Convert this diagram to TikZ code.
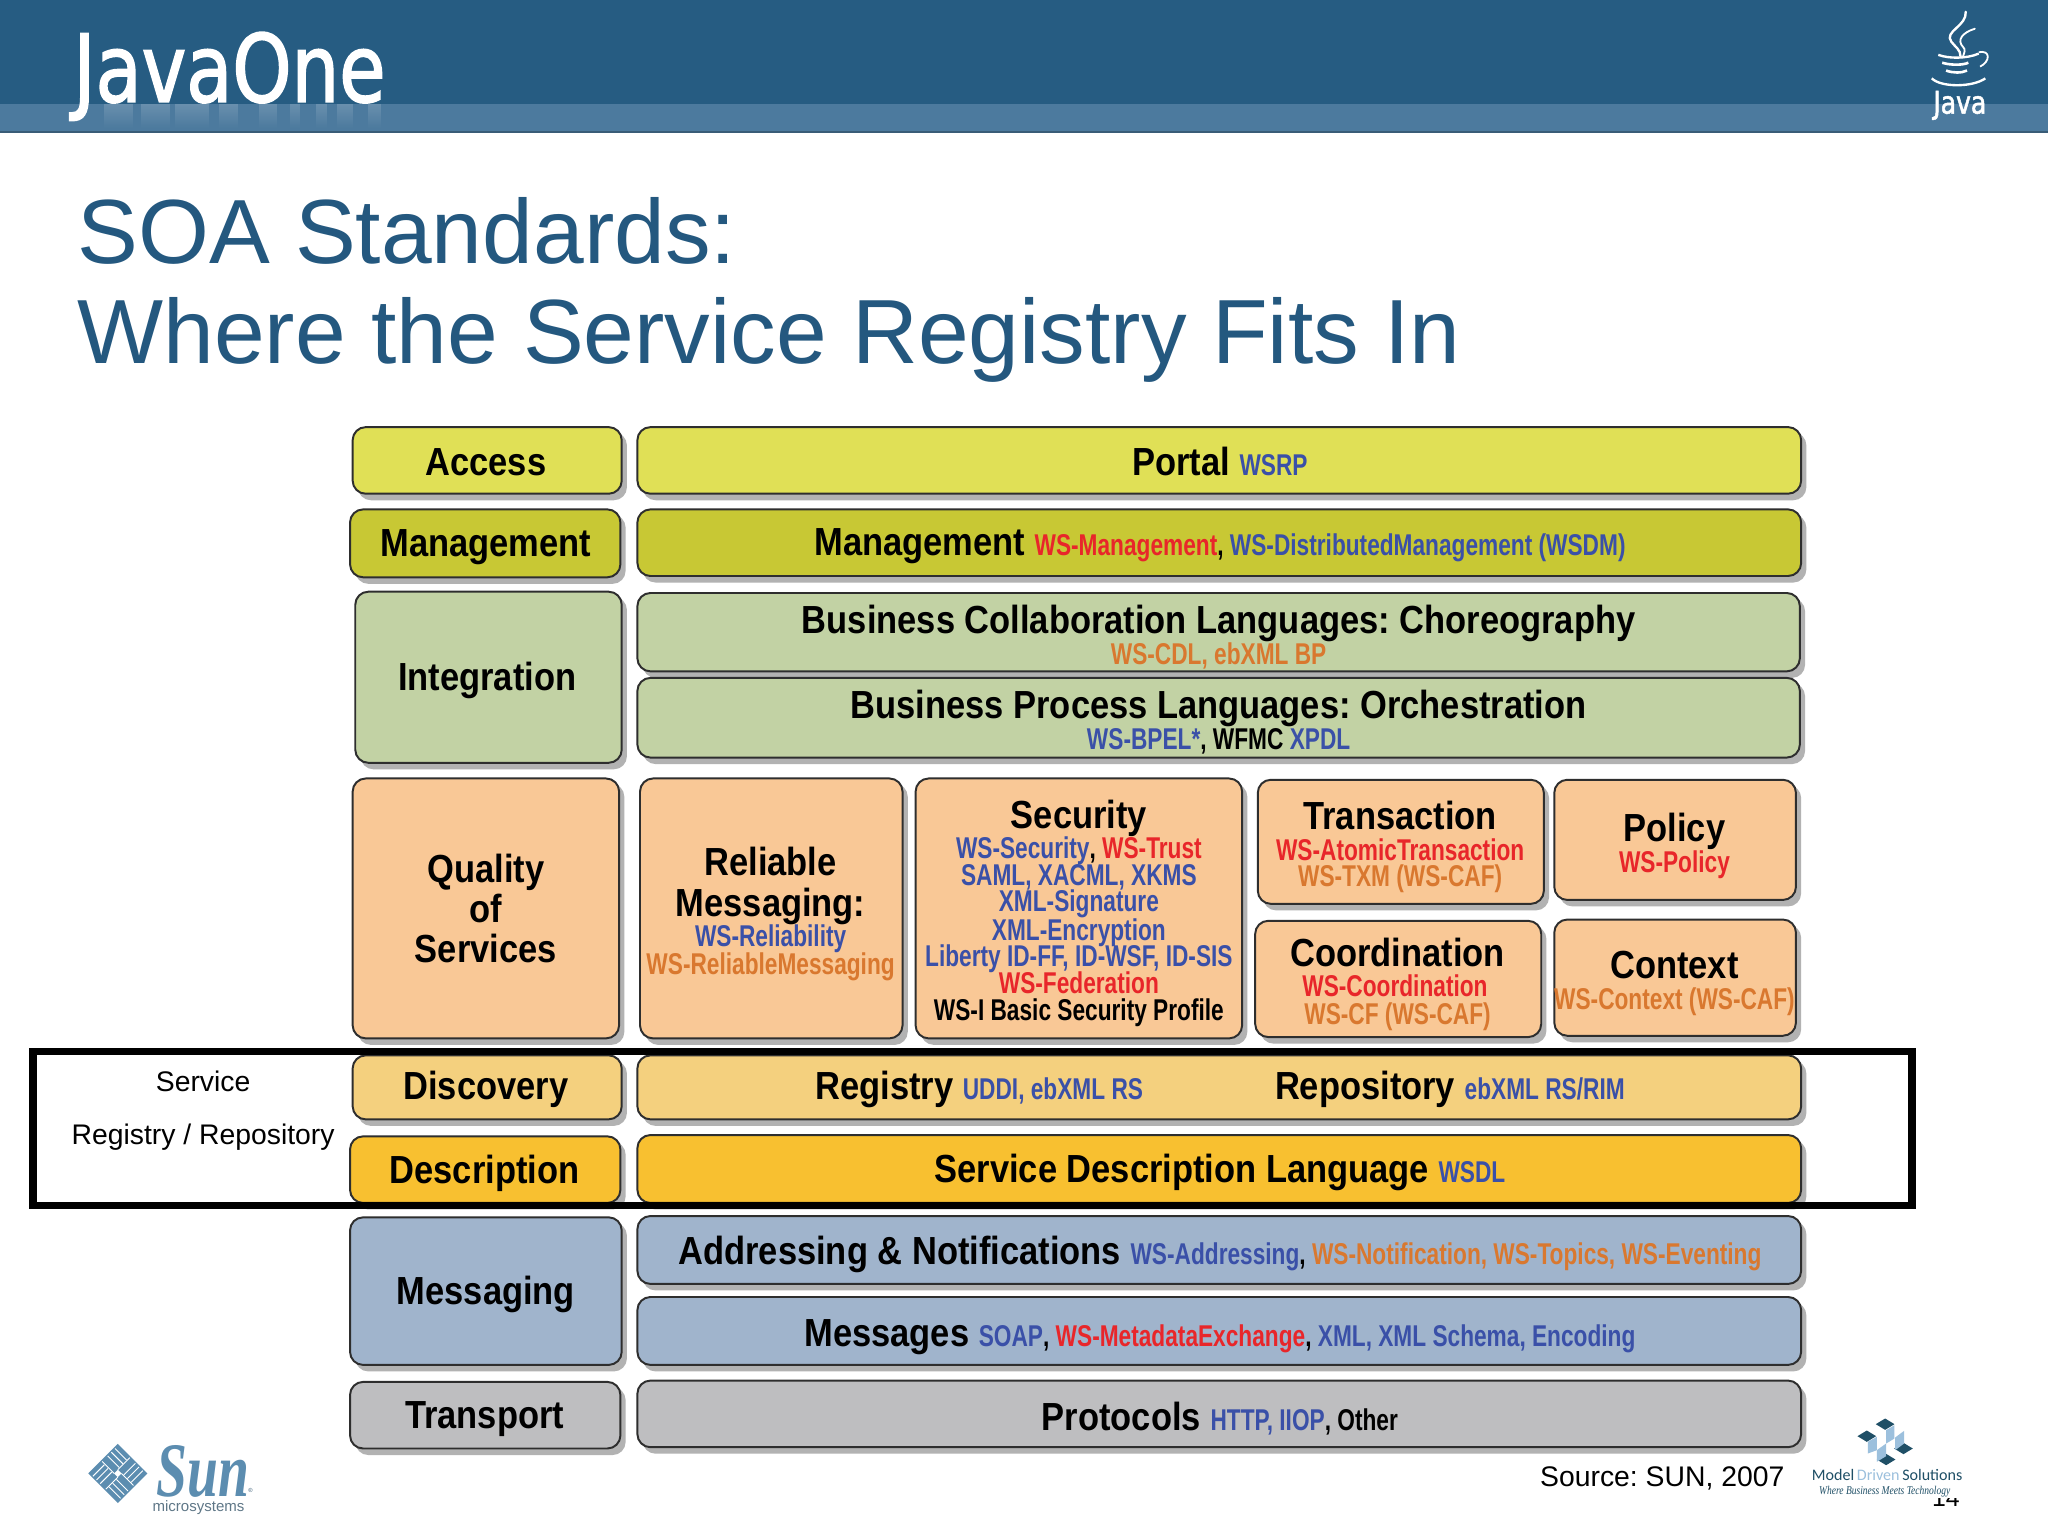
\documentclass[tikz,border=0pt]{standalone}
\usepackage{fontspec}
\usetikzlibrary{fadings}
\setmainfont{Liberation Sans}
\newfontfamily\lab[FakeStretch=0.88]{Liberation Sans}
\newfontfamily\sublab[FakeStretch=0.755]{Liberation Sans}
\newfontfamily\logofont[FakeStretch=0.8,FakeBold=1.6]{DejaVu Sans}
\newfontfamily\serifit[FakeStretch=0.8]{Liberation Serif}
\newfontfamily\sunfont[FakeStretch=0.72]{Liberation Serif}
\newfontfamily\mdsfont{Carlito}
\frenchspacing
\definecolor{hdr}{HTML}{265C82}
\definecolor{hdrband}{HTML}{4C7A9E}
\definecolor{ttl}{HTML}{24587F}
\definecolor{cyel}{HTML}{E0E056}
\definecolor{cmgt}{HTML}{C8C834}
\definecolor{cint}{HTML}{C2D2A4}
\definecolor{cqos}{HTML}{F9C896}
\definecolor{cdis}{HTML}{F4D07E}
\definecolor{cdes}{HTML}{F8C030}
\definecolor{cmsg}{HTML}{A0B4CC}
\definecolor{ctra}{HTML}{BEBEC0}
\definecolor{tb}{HTML}{3A50A8}
\definecolor{tr}{HTML}{E8262A}
\definecolor{to}{HTML}{D9782F}
\definecolor{sunb}{HTML}{5C8DB0}
\definecolor{mds}{HTML}{1F4F66}
\definecolor{mdsl}{HTML}{9CC0DD}
\tikzset{x=1pt,y=-1pt,
  lbl/.style={inner sep=0pt,anchor=base,font=\lab\bfseries\fontsize{30}{30}\selectfont},
  subl/.style={inner sep=0pt,anchor=base,font=\sublab\bfseries\fontsize{23}{23}\selectfont},
  hwest/.style={inner sep=0pt,anchor=base west},
}
\newcommand{\mn}[1]{{\lab\bfseries\fontsize{30}{30}\selectfont #1}}
\newcommand{\sm}[2]{{\sublab\bfseries\fontsize{23}{23}\selectfont\textcolor{#1}{#2}}}
% \panel{name}{x1}{y1}{x2}{y2}{colour}
\newcommand{\panel}[6]{%
  \fill[black!30,rounded corners=10pt] (#2+4,#3+4) rectangle (#4+4,#5+5);
  \fill[#6,draw=black!82,line width=1.5pt,rounded corners=10pt] (#2,#3) rectangle (#4,#5);
  \coordinate (#1) at ({(#2+#4)/2},{(#3+#5)/2});}
\begin{document}
\begin{tikzpicture}
\useasboundingbox (0,0) rectangle (1568,1176);
\fill[white] (0,0) rectangle (1568,1176);
% header
\fill[hdr] (0,0) rectangle (1568,80);
\fill[hdrband] (0,80) rectangle (1568,100);
\fill[black!25!hdrband] (0,100) rectangle (1568,101.5);
% reflection of the wordmark in the band
\foreach \a/\b in {80/102,108/130,134/160,168/182,198/212,222/230,242/250,258/270,282/292}{
  \fill[white,opacity=.16,path fading=south] (\a,80) rectangle (\b,98);}
\node[hwest,text=white] (javaone) at (56,78) {\logofont\fontsize{72}{72}\selectfont JavaOne};
% java logo
\draw[white,line width=1.8pt,line cap=round] (1505,9) .. controls (1506,20) and (1488,24) .. (1494,32) .. controls (1497,36) and (1501,38) .. (1501,43);
\draw[white,line width=1.4pt,line cap=round] (1512,22) .. controls (1502,25) and (1498,31) .. (1503,36) .. controls (1505,38) and (1504,40) .. (1503,43);
\draw[white,line width=1.8pt] (1484,42) .. controls (1492,45) and (1506,45) .. (1515,41);
\draw[white,line width=2pt] (1487,48) .. controls (1493,50) and (1503,50) .. (1507,48);
\draw[white,line width=2pt] (1490,54) .. controls (1495,56) and (1502,56) .. (1506,54);
\draw[white,line width=1.4pt] (1515,40) .. controls (1524,38) and (1524,47) .. (1516,51);
\draw[white,line width=1.8pt] (1479,60) .. controls (1486,67) and (1510,67) .. (1520,60);
\node[hwest,text=white] (javaword) at (1480,87) {\logofont\fontsize{24}{24}\selectfont Java};
% title
\node[hwest,text=ttl,font=\fontsize{69.8}{70}\selectfont] (t1) at (59,202) {SOA Standards:};
\node[hwest,text=ttl,font=\fontsize{69.8}{70}\selectfont] (t2) at (59,278) {Where the Service Registry Fits In};
% panels
\panel{access}{270}{327}{476}{378}{cyel}
\panel{portal}{488}{327}{1379}{378}{cyel}
\panel{mgmt}{268}{390}{475}{442}{cmgt}
\panel{mgmtr}{488}{390}{1379}{441}{cmgt}
\panel{integ}{272}{453}{476}{584}{cint}
\panel{bcl}{488}{454}{1378}{514}{cint}
\panel{bpl}{488}{519}{1378}{580}{cint}
\panel{qos}{270}{596}{474}{795}{cqos}
\panel{rel}{490}{596}{691}{795}{cqos}
\panel{sec}{701}{596}{951}{795}{cqos}
\panel{trans}{963}{597}{1182}{692}{cqos}
\panel{pol}{1190}{597}{1375}{689}{cqos}
\panel{coord}{961}{705}{1180}{794}{cqos}
\panel{ctx}{1190}{704}{1375}{793}{cqos}
\panel{disc}{270}{808}{476}{857}{cdis}
\panel{regr}{488}{808}{1379}{857}{cdis}
\panel{desc}{268}{870}{475}{921}{cdes}
\panel{sdl}{488}{869}{1379}{921}{cdes}
\panel{msg}{268}{932}{476}{1045}{cmsg}
\panel{addr}{488}{931}{1379}{983}{cmsg}
\panel{mess}{488}{993}{1379}{1045}{cmsg}
\panel{trn}{268}{1058}{475}{1109}{ctra}
\panel{proto}{488}{1057}{1379}{1108}{ctra}
% highlight
\draw[black,line width=6pt] (25,805) rectangle (1464,923);
% labels
\node[lbl] (l1) at (372,364) {Access};
\node[lbl] (l2) at (934,364) {Portal \sm{tb}{WSRP}};
\node[lbl] (l3) at (372,426) {Management};
\node[lbl] (l4) at (934,425) {Management \sm{tr}{WS-Management}\sm{black}{, }\sm{tb}{WS-DistributedManagement (WSDM)}};
\node[lbl] (l5) at (373,529) {Integration};
\node[lbl] (l6) at (933,485) {Business Collaboration Languages: Choreography};
\node[subl,text=to] (l7) at (933,509) {WS-CDL, ebXML BP};
\node[lbl] (l8) at (933,550) {Business Process Languages: Orchestration};
\node[subl] (l9) at (933,574) {\textcolor{tb}{WS-BPEL*}, WFMC \textcolor{tb}{XPDL}};
\node[lbl] (q1) at (372,676) {Quality};
\node[lbl] (q2) at (372,706) {of};
\node[lbl] (q3) at (372,737) {Services};
\node[lbl] (r1) at (590,670) {Reliable};
\node[lbl] (r2) at (590,702) {Messaging:};
\node[subl,text=tb] (r3) at (590,725) {WS-Reliability};
\node[subl,text=to] (r4) at (590,746) {WS-ReliableMessaging};
\node[lbl] (s1) at (826,634) {Security};
\node[subl] (s2) at (826,657) {\textcolor{tb}{WS-Security}, \textcolor{tr}{WS-Trust}};
\node[subl,text=tb] (s3) at (826,678) {SAML, XACML, XKMS};
\node[subl,text=tb] (s4) at (826,698) {XML-Signature};
\node[subl,text=tb] (s5) at (826,720) {XML-Encryption};
\node[subl,text=tb] (s6) at (826,740) {Liberty ID-FF, ID-WSF, ID-SIS};
\node[subl,text=tr] (s7) at (826,761) {WS-Federation};
\node[subl] (s8) at (826,781) {WS-I Basic Security Profile};
\node[lbl] (t3) at (1072,635) {Transaction};
\node[subl,text=tr] (t4) at (1072,659) {WS-AtomicTransaction};
\node[subl,text=to] (t5) at (1072,679) {WS-TXM (WS-CAF)};
\node[lbl] (p1) at (1282,644) {Policy};
\node[subl,text=tr] (p2) at (1282,668) {WS-Policy};
\node[lbl] (c1) at (1070,740) {Coordination};
\node[subl,text=tr] (c2) at (1068,763) {WS-Coordination};
\node[subl,text=to] (c3) at (1070,784) {WS-CF (WS-CAF)};
\node[lbl] (x1) at (1282,749) {Context};
\node[subl,text=to] (x2) at (1282,773) {WS-Context (WS-CAF)};
\node[lbl] (d1) at (372,842) {Discovery};
\node[hwest] (d2) at (624,842) {\mn{Registry\ }\sm{tb}{UDDI, ebXML RS}};
\node[hwest] (d3) at (976,842) {\mn{Repository\ }\sm{tb}{ebXML RS/RIM}};
\node[lbl] (e1) at (371,906) {Description};
\node[lbl] (e2) at (934,905) {Service Description Language \sm{tb}{WSDL}};
\node[lbl] (m1) at (372,999) {Messaging};
\node[lbl] (m2) at (934,968) {Addressing \& Notifications \sm{tb}{WS-Addressing}\sm{black}{, }\sm{to}{WS-Notification, WS-Topics, WS-Eventing}};
\node[lbl] (m3) at (934,1031) {Messages \sm{tb}{SOAP}\sm{black}{, }\sm{tr}{WS-MetadataExchange}\sm{black}{, }\sm{tb}{XML, XML Schema, Encoding}};
\node[lbl] (n1) at (371,1094) {Transport};
\node[lbl] (n2) at (934,1095) {Protocols \sm{tb}{HTTP, IIOP}\sm{black}{, Other}};
% side text
\node[inner sep=0pt,anchor=base,font=\fontsize{21.7}{22}\selectfont] (sv1) at (155.5,836) {Service};
\node[inner sep=0pt,anchor=base,font=\fontsize{21.7}{22}\selectfont] (sv2) at (155.5,876) {Registry / Repository};
\node[hwest,font=\fontsize{21.7}{22}\selectfont] (src) at (1179,1138) {Source: SUN, 2007};
% page number, cut by the logo's white ground
\node[hwest,font=\fontsize{19}{19}\selectfont] (pg) at (1479,1153.5) {14};
\fill[white] (1385,1120) rectangle (1510,1147);
% Sun logo
\begin{scope}[shift={(90.2,1128.1)},rotate=45]
  \fill[sunb] (-16,-16) rectangle (16,16);
  \foreach \a in {0,90,180,270}{
    \begin{scope}[rotate=\a]
      \foreach \o in {4,8,12}{
        \draw[white,line width=.7pt] (\o,-15) -- (\o,-2.5);}
      \draw[white,line width=.7pt] (2,-2) -- (15,-2);
    \end{scope}}
  \fill[white] (-2,-2) rectangle (2,2);
\end{scope}
\node[hwest,text=sunb] (sunw) at (120,1146) {\sunfont\bfseries\itshape\fontsize{59}{59}\selectfont Sun};
\node[inner sep=0pt,anchor=base west,text=sunb!70!black,font=\fontsize{4.5}{5}\selectfont] (regd) at (190,1143) {®};
\node[inner sep=0pt,anchor=base,text=sunb!60!black!80,font=\fontsize{11.5}{11.5}\selectfont] (micro) at (152,1157) {microsystems};
% MDS logo
\begin{scope}[shift={(1362.9,1072)},x=.2552pt,y=.2552pt,yscale=-1]
  \foreach \p/\c in {315/72,260/108,370/145,318/178}{
    \fill[mds,shift={(\p,\c)}] (0,-17) -- (28,0) -- (0,17) -- (-28,0) -- cycle;}
\end{scope}
\begin{scope}[shift={(1362.9,1072)},x=.2552pt,y=.2552pt,yscale=-1]
  \fill[mdsl] (318,90) -- (343,75) -- (343,115) -- (318,130) -- cycle;
  \fill[mdsl] (345,112) -- (372,92) -- (372,130) -- (345,150) -- cycle;
  \fill[mdsl] (263,125) -- (290,110) -- (290,150) -- (263,160) -- cycle;
  \fill[mdsl] (290,150) -- (318,130) -- (318,168) -- (290,185) -- cycle;
\end{scope}
\node[hwest,font=\mdsfont\fontsize{12.3}{12.3}\selectfont,text=mds] (mdsw) at (1387,1133.8) {Model\,\textcolor{mdsl}{Driven}\,Solutions};
\node[inner sep=0pt,anchor=base,font=\serifit\itshape\fontsize{9.1}{9.1}\selectfont,text=mds] (mdst) at (1443,1144) {Where Business Meets Technology};
\end{tikzpicture}
\end{document}
